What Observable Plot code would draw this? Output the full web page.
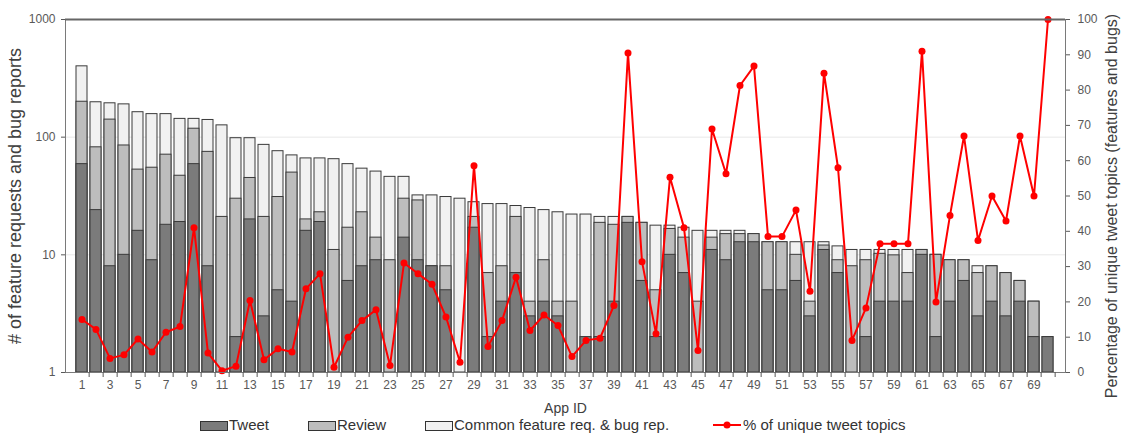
<!DOCTYPE html>
<html>
<head>
<meta charset="utf-8">
<script src="https://cdn.jsdelivr.net/npm/d3@7"></script>
<script src="https://cdn.jsdelivr.net/npm/@observablehq/plot@0.6"></script>
<style>
  html, body { margin: 0; padding: 0; background: #fff; }
  body { font-family: "Liberation Sans", Arial, sans-serif; width: 1132px; height: 434px; overflow: hidden; position: relative; }
  #legend { position: absolute; left: 0; top: 416px; width: 1132px; height: 18px; font-size: 15px; color: #333; }
  .sw { position: absolute; top: 5px; width: 26px; height: 8px; border: 1px solid #333; }
  .lab { position: absolute; top: 0px; line-height: 18px; white-space: nowrap; }
</style>
</head>
<body>
<div id="chart"></div>
<div id="legend">
  <div class="sw" style="left:200px;background:#7b7b7b"></div><div class="lab" style="left:229px">Tweet</div>
  <div class="sw" style="left:308px;background:#bdbdbd"></div><div class="lab" style="left:337px">Review</div>
  <div class="sw" style="left:425px;background:#f1f1f1"></div><div class="lab" style="left:454px">Common feature req. &amp; bug rep.</div>
  <svg style="position:absolute;left:712px;top:3px" width="30" height="12"><line x1="1" y1="6" x2="29" y2="6" stroke="#ff0000" stroke-width="2"/><circle cx="15" cy="6" r="3.5" fill="#ff0000"/></svg>
  <div class="lab" style="left:743px">% of unique tweet topics</div>
</div>
<script>
// App IDs (categories)
const appIds = [1,2,3,4,5,6,7,8,9,10,11,12,13,14,15,16,17,18,19,20,21,22,23,24,25,26,27,28,29,30,31,32,33,34,35,36,37,38,39,40,41,42,43,44,45,46,47,48,49,50,51,52,53,54,55,56,57,58,59,60,61,62,63,64,65,66,67,68,69,70];

// Common feature req. & bug rep. (outer bar)
const commonVals = [400,198,194,190,163,157,157,143,143,140,126,98,98,86,76,70,66,66,65,59,54,51,46,46,32,32,31,30,28,27,27,26,25,24,23,22,22,21,21,21,18.7,17.7,17.7,17,16,16,16,16,15,12.8,12.8,12.8,12.8,12.8,11.8,11,11,11,11,11,11,10,9,9,8,8,7,6,4,2];

// Review
const reviewVals = [200,82,141,85,53,55,71,47,118,75,21,30,45,21,31,50,20,23,11,17,23,14,9,30,29,8,8,null,21,7,8,21,4,9,4,4,null,18.7,18,21,18.7,5,16.6,14,4,14,15,15,15,12.8,12.8,10,4,12,9,8,9,10.2,9.9,7,11,10,9,9,7,8,7,6,4,null];

// Tweet
const tweetVals = [59,24,8,10,16,9,18,19,59,8,null,2,20,3,5,4,16,19,null,6,8,9,null,14,9,8,5,null,17,2,4,7,3,4,3,null,2,2,4,18.7,6,2,10,7,null,11,9,12.8,12.8,5,5,6,3,11,7,null,2,4,4,4,10,2,4,6,3,4,3,4,2,2];

// % of unique tweet topics
const pctVals = [15,12.2,4,5,9.5,5.8,11.4,13,41,5.5,0.5,1.8,20.4,3.6,6.7,5.8,23.7,28,1.5,10,14.7,17.8,2,31,28,25,15.7,2.9,58.6,7.4,14.7,27,11.9,16.3,13.3,4.5,9.1,9.7,19,90.5,31.4,11,55.3,41,6.2,69,56.3,81.3,86.8,38.5,38.5,46,23,84.8,58,9.1,18.3,36.5,36.5,36.5,91,20,44.5,67,37.4,50,42.9,67,50,100];

const leftTicks = [1,10,100,1000];
const rightTicks = [0,10,20,30,40,50,60,70,80,90,100];
const xLabelTicks = [1,3,5,7,9,11,13,15,17,19,21,23,25,27,29,31,33,35,37,39,41,43,45,47,49,51,53,55,57,59,61,63,65,67,69];

// The shared y scale is in log10(count) units (0..3 = 1..1000);
// the percentage axis (0..100) is mapped onto the same 0..3 range.
const lg = v => Math.log10(v);
const pctToY = p => p * 3 / 100;

const rows = appIds.map((id, i) => ({id, common: commonVals[i], review: reviewVals[i], tweet: tweetVals[i], pct: pctVals[i]}));

const W = 1132, H = 416, mL = 65, mR = 67, mT = 19, mB = 44;
const step = (W - mL - mR) / appIds.length;
const fontFam = '"Liberation Sans", Arial, sans-serif';

const chart = Plot.plot({
  width: W, height: H,
  marginLeft: mL, marginRight: mR, marginTop: mT, marginBottom: mB,
  style: {fontFamily: fontFam, fontSize: "12px", color: "#595959", background: "#fff", overflow: "visible"},
  x: {type: "band", domain: appIds, paddingInner: 0.2, paddingOuter: 0.1, axis: null},
  y: {type: "linear", domain: [0, 3], axis: null},
  marks: [
    Plot.ruleY([lg(10), lg(100)], {stroke: "#e8e8e8", strokeWidth: 1}),
    Plot.barY(rows.filter(d => d.common), {x: "id", y1: () => 0, y2: d => lg(d.common), fill: "#f1f1f1", stroke: "#3a3a3a", strokeWidth: 1}),
    Plot.barY(rows.filter(d => d.review), {x: "id", y1: () => 0, y2: d => lg(d.review), fill: "#bdbdbd", stroke: "#3a3a3a", strokeWidth: 1}),
    Plot.barY(rows.filter(d => d.tweet), {x: "id", y1: () => 0, y2: d => lg(d.tweet), fill: "#7b7b7b", stroke: "#3a3a3a", strokeWidth: 1}),
    Plot.line(rows, {x: "id", y: d => pctToY(d.pct), stroke: "#ff0000", strokeWidth: 2}),
    Plot.dot(rows, {x: "id", y: d => pctToY(d.pct), r: 3.5, fill: "#ff0000"}),
    // frame lines
    Plot.frame({stroke: "#7a7a7a", strokeWidth: 1}),
    Plot.ruleY([lg(1000)], {stroke: "#666", strokeWidth: 2}),
    // axes
    Plot.axisY({anchor: "left", ticks: leftTicks.map(lg), tickFormat: v => String(Math.round(Math.pow(10, v))), tickSize: 4, tickPadding: 6, label: null, fontSize: 12}),
    Plot.axisY({anchor: "right", ticks: rightTicks.map(pctToY), tickFormat: v => String(Math.round(v * 100 / 3)), tickSize: 4, tickPadding: 8, label: null, fontSize: 12}),
    Plot.axisX({ticks: appIds, tickSize: 5, tickFormat: () => "", dx: step / 2, label: null}),
    Plot.axisX({ticks: xLabelTicks, tickSize: 0, tickPadding: 8, label: null, fontSize: 12}),
    // axis titles
    Plot.text(["# of feature requests and bug reports"], {frameAnchor: "left", dx: -50, rotate: -90, fontSize: 18, fill: "#404040", textAnchor: "middle"}),
    Plot.text(["Percentage of unique tweet topics (features and bugs)"], {frameAnchor: "right", dx: 46, dy: 10, rotate: -90, fontSize: 16, fill: "#404040", textAnchor: "middle"}),
    Plot.text(["App ID"], {frameAnchor: "bottom", dy: 40, fontSize: 14, fill: "#404040"})
  ]
});
document.getElementById("chart").appendChild(chart);
</script>
</body>
</html>
